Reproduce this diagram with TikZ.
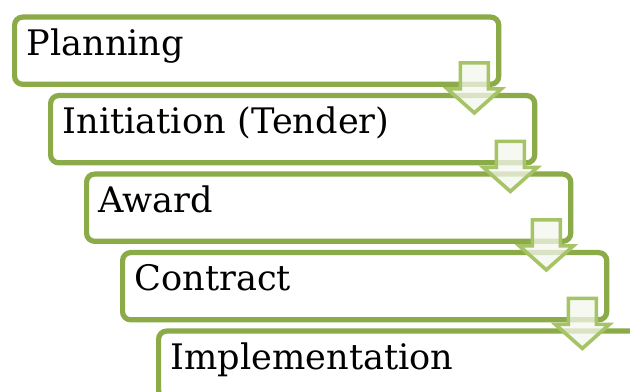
\documentclass[tikz,border=0pt]{standalone}
\usepackage{fontspec}
\setmainfont{DejaVu Serif}
\usetikzlibrary{calc}
\definecolor{stepgreen}{HTML}{8BAA48}
\definecolor{arrowgreen}{HTML}{A6C466}
\definecolor{arrowfill}{HTML}{F4F7EE}
\tikzset{
  stagebox/.style={draw=stepgreen,line width=0.13cm,rounded corners=0.2cm,fill=white,
    anchor=north west,minimum height=1.68cm,inner xsep=0.3cm,text width=11.5cm,align=left,
    font=\fontsize{25}{30}\selectfont,text height=0.75em,text depth=0.12em},
  blockarrow/.style={draw=arrowgreen,line width=0.09cm,fill=arrowfill,fill opacity=0.75,line join=miter}
}
% down arrow hanging off the lower right corner of a box
\newcommand{\stagearrow}[1]{%
  \path[blockarrow] ($(#1.south east)+(-41,-24)$) -- ++(28,0) -- ++(0,26) -- ++(13,0)
    -- ++(-27,24) -- ++(-27,-24) -- ++(13,0) -- cycle;}
\begin{document}
\begin{tikzpicture}[x=0.025cm,y=-0.025cm]
\useasboundingbox (0,0) rectangle (630,392);
\clip (0,0) rectangle (630,392);

\node[stagebox] (plan) at (12,14.5) {Planning};
\node[stagebox] (init) at (48,93) {Initiation (Tender)};
\node[stagebox] (award) at (84,171.5) {Award};
\node[stagebox] (contract) at (120,250) {Contract};
\node[stagebox] (impl) at (156,328.5) {Implementation};

\stagearrow{plan}
\stagearrow{init}
\stagearrow{award}
\stagearrow{contract}

\end{tikzpicture}
\end{document}
